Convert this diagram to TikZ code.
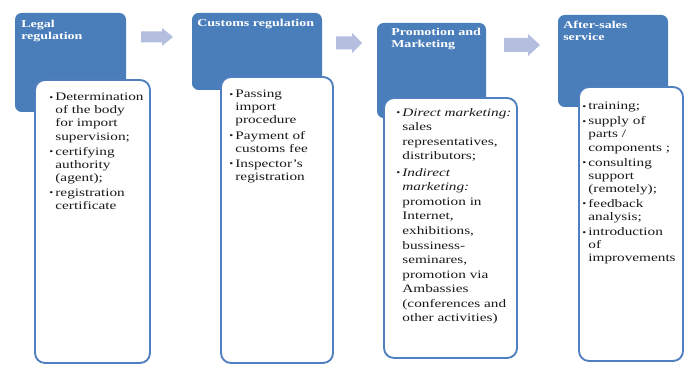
\documentclass[tikz,border=0pt]{standalone}
\usepackage{fontspec}
\usepackage{graphicx}
\setmainfont{Liberation Serif}[FakeStretch=1.33]
\usetikzlibrary{fit}
\definecolor{hdrblue}{HTML}{4A7EBB}
\definecolor{edgeblue}{HTML}{4F7FBF}
\definecolor{arrowfill}{HTML}{B4BEDE}
% list markers: bullet for a new item, matching indent for continuation lines
\newcommand\bul{\makebox[4.6pt][l]{\raisebox{0.3pt}{\scalebox{0.75}{\textbullet}}}}
\newcommand\ind{\hspace*{4.6pt}}
% block arrow: #1 left x, #2 head start x, #3 tip x, #4 centre y, #5 shaft half height, #6 head half height
\newcommand\blockarrow[6]{%
  \fill[arrowfill] (#1,#4-#5) -- (#2,#4-#5) -- (#2,#4-#6) -- (#3,#4)
    -- (#2,#4+#6) -- (#2,#4+#5) -- (#1,#4+#5) -- cycle;}
\begin{document}
\begin{tikzpicture}[x=0.75pt,y=-0.75pt,
  hdrbox/.style={fill=hdrblue, rounded corners=5pt, inner sep=0pt, draw=none},
  listbox/.style={fill=white, draw=edgeblue, line width=1.4pt, rounded corners=7.5pt, inner sep=0pt},
  hdrtext/.style={anchor=north west, inner sep=0pt, text=white, align=left,
    font=\bfseries\fontsize{7.9pt}{8.8pt}\selectfont},
  listtext/.style={anchor=north west, inner sep=0pt, align=left, text=black!90,
    font=\fontsize{8.6pt}{9.8pt}\selectfont},
  widelist/.style={listtext, font=\fontsize{8.6pt}{10.9pt}\selectfont}]
\useasboundingbox (0,0) rectangle (685,366);
\fill[white] (0,0) rectangle (685,366);

% stage 1: legal regulation
\node[hdrbox, fit={(15,13) (126,112)}] (b1) {};
\node[listbox, fit={(35,80) (150,363)}] (l1) {};
\node[hdrtext] (h1) at (21,20) {Legal\\regulation};
\node[listtext] (t1) at (49,93) {%
\bul Determination\\ \ind of the body\\ \ind for import\\ \ind supervision;\\[1.5pt]
\bul certifying\\ \ind authority\\ \ind (agent);\\[1.5pt]
\bul registration\\ \ind certificate};

% stage 2: customs regulation
\node[hdrbox, fit={(192,13) (322,90)}] (b2) {};
\node[listbox, fit={(221,77) (333,363)}] (l2) {};
\node[hdrtext] (h2) at (197,19) {Customs regulation};
\node[listtext] (t2) at (229,90) {%
\bul Passing\\ \ind import\\ \ind procedure\\[1.5pt]
\bul Payment of\\ \ind customs fee\\[1.5pt]
\bul Inspector's\\ \ind registration};

% stage 3: promotion and marketing
\node[hdrbox, fit={(377,23) (486,118)}] (b3) {};
\node[listbox, fit={(384,98) (517,358)}] (l3) {};
\node[hdrtext] (h3) at (391,28) {Promotion and\\Marketing};
\node[widelist] (t3) at (396,108) {%
\bul \textit{Direct marketing:}\\ \ind sales\\ \ind representatives,\\ \ind distributors;\\[1.5pt]
\bul \textit{Indirect}\\ \ind \textit{marketing:}\\ \ind promotion in\\ \ind Internet,\\
\ind exhibitions,\\ \ind bussiness-\\ \ind seminares,\\ \ind promotion via\\
\ind Ambassies\\ \ind (conferences and\\ \ind other activities)};

% stage 4: after-sales service
\node[hdrbox, fit={(558,15) (668,107)}] (b4) {};
\node[listbox, fit={(579,87) (683,361)}] (l4) {};
\node[hdrtext] (h4) at (563,21) {After-sales\\service};
\node[listtext] (t4) at (582,102) {%
\bul training;\\[1.5pt]
\bul supply of\\ \ind parts /\\ \ind components ;\\[1.5pt]
\bul consulting\\ \ind support\\ \ind (remotely);\\[1.5pt]
\bul feedback\\ \ind analysis;\\[1.5pt]
\bul introduction\\ \ind of\\ \ind improvements};

% block arrows between the stages
\blockarrow{141}{162}{173}{37}{5.5}{9}
\blockarrow{336}{352}{362}{43}{6.5}{10}
\blockarrow{504}{528}{540}{45}{7}{11}
\end{tikzpicture}
\end{document}
